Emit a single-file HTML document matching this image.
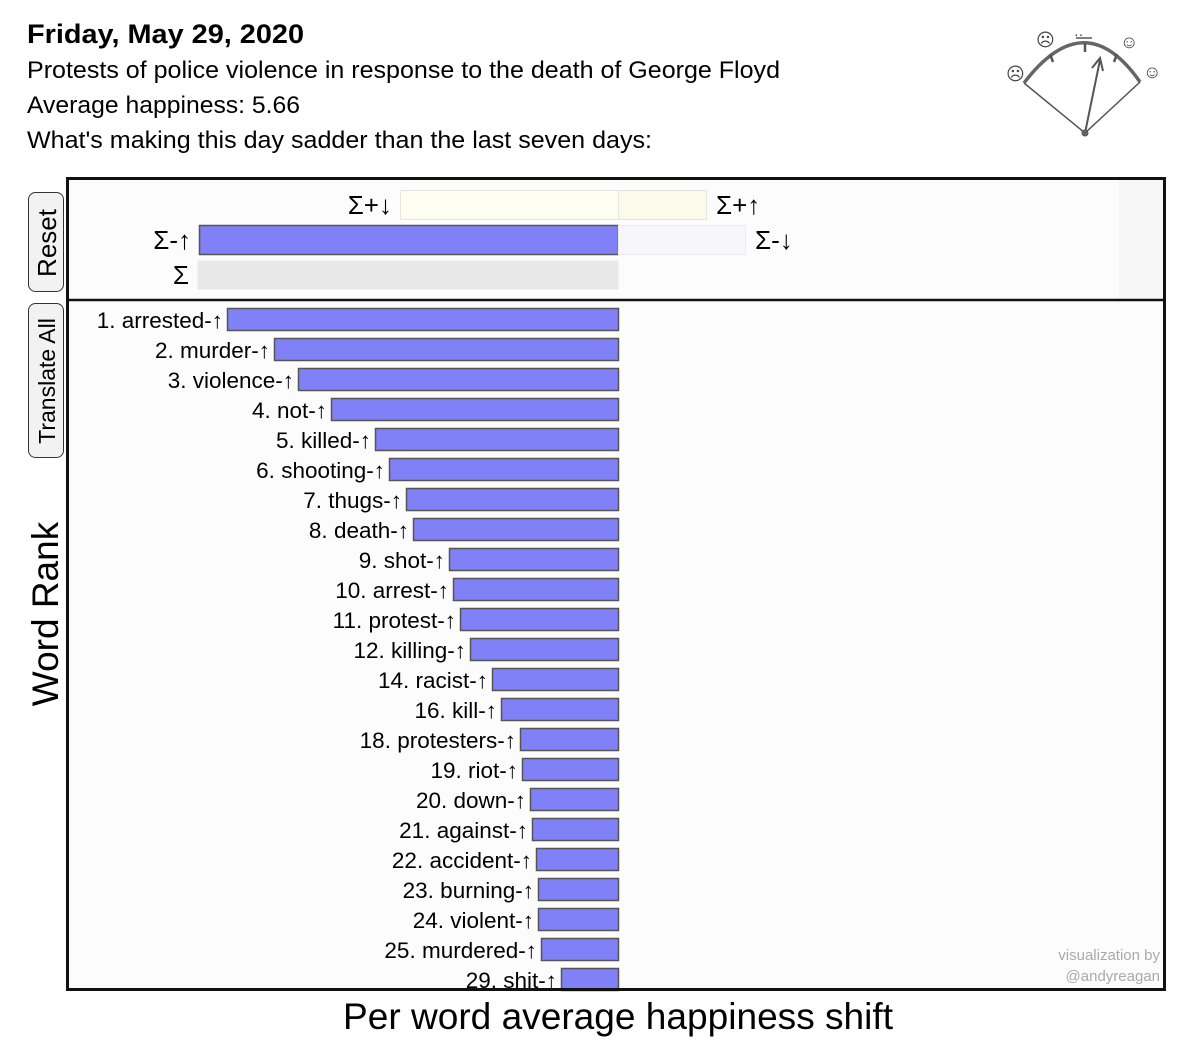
<!DOCTYPE html>
<html><head><meta charset="utf-8">
<style>
body{margin:0;background:#fff;width:1200px;height:1048px;overflow:hidden;font-family:"Liberation Sans",sans-serif;}
svg{display:block}
</style></head>
<body>
<svg id="chart" width="1200" height="1048" xmlns="http://www.w3.org/2000/svg" font-family="Liberation Sans, sans-serif">
  <text x="27" y="43" font-size="27" font-weight="bold" fill="#000" textLength="277" lengthAdjust="spacingAndGlyphs">Friday, May 29, 2020</text>
  <text x="27" y="78" font-size="24" fill="#000" textLength="753" lengthAdjust="spacingAndGlyphs">Protests of police violence in response to the death of George Floyd</text>
  <text x="27" y="113" font-size="24" fill="#000" textLength="273" lengthAdjust="spacingAndGlyphs">Average happiness: 5.66</text>
  <text x="27" y="148" font-size="24" fill="#000" textLength="625" lengthAdjust="spacingAndGlyphs">What's making this day sadder than the last seven days:</text>

  <g stroke="#555" fill="none">
    <path d="M1024,83 Q1085,3 1140,82" stroke-width="3.5" stroke="#666"/>
    <line x1="1024" y1="83" x2="1085" y2="133" stroke-width="1.5"/>
    <line x1="1140" y1="82" x2="1085" y2="133" stroke-width="1.5"/>
    <line x1="1085" y1="133" x2="1100" y2="60" stroke-width="2"/>
    <path d="M1092,68 L1100,58 L1103,71" stroke-width="2"/>
    <line x1="1085" y1="43" x2="1085" y2="52" stroke-width="2.5"/>
    <line x1="1050" y1="54" x2="1053" y2="62" stroke-width="2.5"/>
    <line x1="1117" y1="54" x2="1114" y2="62" stroke-width="2.5"/>
    <circle cx="1085" cy="133" r="3" fill="#666"/>
    <text x="1006" y="80" font-size="18" fill="#444" stroke="none">☹</text>
    <text x="1036" y="46" font-size="18" fill="#444" stroke="none">☹</text>
    <text x="1074" y="36" font-size="14" fill="#444" stroke="none">‥</text>
    <line x1="1076" y1="38" x2="1092" y2="38" stroke-width="1.5"/>
    <text x="1120" y="48" font-size="18" fill="#444" stroke="none">☺</text>
    <text x="1143" y="78" font-size="18" fill="#444" stroke="none">☺</text>
  </g>

  <g>
    <rect x="28.5" y="192.5" width="35" height="99" rx="7" fill="#f2f2f2" stroke="#333" stroke-width="1"/>
    <text transform="translate(56,243) rotate(-90)" text-anchor="middle" font-size="26" fill="#000">Reset</text>
  </g>
  <g>
    <rect x="28.5" y="303.5" width="35" height="154" rx="7" fill="#f2f2f2" stroke="#333" stroke-width="1"/>
    <text transform="translate(55,381) rotate(-90)" text-anchor="middle" font-size="23" fill="#000">Translate All</text>
  </g>
  <text transform="translate(58,614) rotate(-90)" text-anchor="middle" font-size="37" fill="#000">Word Rank</text>

  <rect x="67.5" y="178.5" width="1097" height="811" fill="#fcfcfc" stroke="none"/>
  <rect x="1118" y="180" width="46" height="120" fill="#f7f7f7"/>
  <g id="summary"></g>
  <g id="bars"></g>
  <line x1="67" y1="300" x2="1165" y2="300" stroke="#111" stroke-width="2.5"/>
  <rect x="67.5" y="178.5" width="1097" height="811" fill="none" stroke="#111" stroke-width="3"/>
  <text x="1160" y="960" text-anchor="end" font-size="15" fill="#aaa">visualization by</text>
  <text x="1160" y="981" text-anchor="end" font-size="15" fill="#aaa">@andyreagan</text>
  <text x="618" y="1029" text-anchor="middle" font-size="37" fill="#000" textLength="550" lengthAdjust="spacingAndGlyphs">Per word average happiness shift</text>
</svg>
<script>
const words = ["arrested","murder","violence","not","killed","shooting","thugs","death","shot","arrest","protest","killing","racist","kill","protesters","riot","down","against","accident","burning","violent","murdered","shit"];
const ranks = [1,2,3,4,5,6,7,8,9,10,11,12,14,16,18,19,20,21,22,23,24,25,29];
const shifts = [-3.91,-3.44,-3.20,-2.87,-2.43,-2.29,-2.12,-2.05,-1.69,-1.65,-1.58,-1.48,-1.26,-1.17,-0.98,-0.96,-0.88,-0.86,-0.82,-0.80,-0.80,-0.77,-0.57];
const summaryLabels = ["Σ+↓","Σ+↑","Σ-↑","Σ-↓","Σ"];
const summaryValues = [-2.18,0.88,-4.19,1.27,-4.21];

const NS = "http://www.w3.org/2000/svg";
const x0 = 618, pxPerUnit = 100;
function xScale(v){ return x0 + v*pxPerUnit; }
function yRow(i){ return 308 + 30*i; }
function mk(tag, attrs, parent){ const e=document.createElementNS(NS,tag); for(const k in attrs) e.setAttribute(k,attrs[k]); parent.appendChild(e); return e; }

const barsG = document.getElementById('bars');
words.forEach((w,i)=>{
  const v = shifts[i];
  const xa = Math.min(xScale(v), x0), xb = Math.max(xScale(v), x0);
  const r = mk('rect',{x:xa+0.5,y:yRow(i)+0.5,width:xb-xa,height:22,fill:'#8080f7',stroke:'#555','stroke-width':1.5},barsG);
  
  
  const t = mk('text',{x:xa-4,y:yRow(i)+20,'text-anchor':'end','font-size':22.5,fill:'#000'},barsG);
  t.textContent = ranks[i] + '. ' + w + '-↑';
  
  
});

const sG = document.getElementById('summary');
const sRows = [190,190,225,225,260];
const sFill = ['#fefdf2','#fcfbe9','#8080f7','#f6f6fb','#e8e8e8'];
const sStroke = ['#e6e6e0','#e6e6e0','#555','#eaeaf0','none'];
summaryValues.forEach((v,i)=>{
  const xa = Math.min(xScale(v), x0), xb = Math.max(xScale(v), x0);
  const r = mk('rect',{x:xa+0.5,y:sRows[i]+0.5,width:xb-xa,height:29,fill:sFill[i],stroke:sStroke[i],'stroke-width':i==2?1.5:1},sG);
  
  
  const left = v<0;
  const t = mk('text',{x:left?xa-8:xb+10,y:sRows[i]+24,'text-anchor':left?'end':'start','font-size':26,fill:'#000'},sG);
  t.textContent = summaryLabels[i];
  
  
});
</script>
</body></html>
